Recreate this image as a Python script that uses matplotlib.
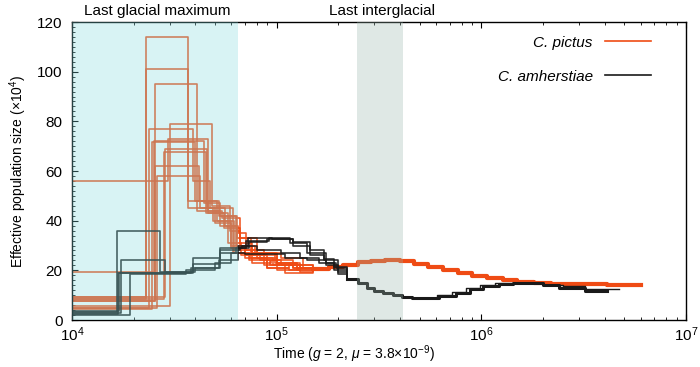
import numpy as np
import matplotlib.pyplot as plt
from matplotlib.lines import Line2D

plt.rcParams['font.family'] = ['Liberation Sans', 'DejaVu Sans']
plt.rcParams['mathtext.fontset'] = 'custom'
plt.rcParams['mathtext.rm'] = 'Liberation Sans'
plt.rcParams['mathtext.it'] = 'Liberation Sans:italic'

# C. pictus bootstrap curves, recent part (time in years, Ne in 10^4)
pictus_runs = [
    ([1e4, 2.30e4, 3.70e4, 4.6e4, 5.8e4, 6.7e4, 8.3e4, 1.05e5, 1.3e5, 1.5e5],
     [9.3, 114, 48, 43, 31, 26, 24, 22, 21, 20.5]),
    ([1e4, 2.30e4, 3.70e4, 4.9e4, 6.0e4, 7.0e4, 9.0e4, 1.15e5, 1.5e5],
     [8.4, 101, 45, 40, 29, 25, 21, 20, 20.5]),
    ([1e4, 2.53e4, 4.10e4, 5.3e4, 6.4e4, 7.5e4, 9.8e4, 1.25e5, 1.5e5],
     [7.6, 95, 44, 38, 33, 27, 23, 21, 20.5]),
    ([1e4, 3.00e4, 4.80e4, 5.9e4, 6.6e4, 8.0e4, 1.0e5, 1.3e5, 1.5e5],
     [5.6, 79, 46, 36, 28, 25, 20, 19.5, 20.5]),
    ([1e4, 2.37e4, 3.90e4, 4.7e4, 6.1e4, 7.3e4, 9.3e4, 1.2e5, 1.5e5],
     [4.9, 77, 56, 45, 27, 24, 22, 21, 20.5]),
    ([1e4, 2.45e4, 4.00e4, 5.2e4, 6.3e4, 7.8e4, 1.05e5, 1.35e5, 1.5e5],
     [4.3, 71.5, 48, 42, 30, 27, 25, 21, 20.5]),
    ([1e4, 2.85e4, 4.55e4, 5.6e4, 6.5e4, 7.1e4, 8.7e4, 1.1e5, 1.5e5],
     [9.3, 69, 45, 38, 35, 28, 22, 19, 20.5]),
    ([1e4, 2.80e4, 4.50e4, 5.5e4, 6.6e4, 8.0e4, 1.0e5, 1.25e5, 1.5e5],
     [8.4, 67.5, 43, 37, 33, 26, 23, 20, 20.5]),
    ([1e4, 2.53e4, 4.15e4, 5.1e4, 6.2e4, 7.4e4, 9.6e4, 1.2e5, 1.5e5],
     [7.6, 62, 48, 40, 27, 25, 22, 21, 20.5]),
    ([1e4, 2.94e4, 4.60e4, 5.4e4, 6.6e4, 7.6e4, 9.4e4, 1.2e5, 1.5e5],
     [56, 73, 44, 41, 31, 23, 24, 22, 20.5]),
    ([1e4, 2.50e4, 4.40e4, 5.3e4, 6.4e4, 7.0e4, 9.0e4, 1.15e5, 1.5e5],
     [19.3, 72, 47, 42, 29, 26, 21, 22, 20.5]),
    ([1e4, 2.60e4, 4.20e4, 5.0e4, 6.0e4, 7.6e4, 1.0e5, 1.3e5, 1.5e5],
     [4.9, 58, 45, 39, 30, 27, 23, 21, 20.5]),
]

# C. pictus older part (bootstraps overlap into one band)
pictus_tail_t = [1.5e5, 1.8e5, 2.1e5, 2.5e5, 2.9e5, 3.4e5, 4.0e5, 4.7e5, 5.5e5, 6.5e5, 7.7e5,
                 9.0e5, 1.07e6, 1.27e6, 1.5e6, 1.8e6, 2.2e6, 2.7e6, 3.3e6, 4.1e6, 5.0e6, 6.0e6]
pictus_tail_ne = [20.5, 21.3, 22.2, 23.2, 23.8, 24.0, 23.6, 22.6, 21.4, 20.0, 18.8,
                  17.6, 16.8, 16.0, 15.4, 15.0, 14.7, 14.5, 14.4, 14.3, 14.2, 14.2]

# C. amherstiae bootstrap curves, recent part
amh_runs = [
    ([1e4, 1.65e4, 2.70e4, 3.90e4, 5.30e4, 6.6e4, 7.1e4, 9.2e4, 1.16e5, 1.4e5, 1.75e5, 1.95e5, 2.2e5],
     [3.3, 36, 19.5, 22.5, 28, 29, 32, 33, 31, 27, 23, 20.8, 16.5]),
    ([1e4, 1.73e4, 2.84e4, 4.0e4, 5.3e4, 6.3e4, 7.3e4, 9.0e4, 1.2e5, 1.45e5, 1.7e5, 2.0e5, 2.2e5],
     [2.7, 24, 19.5, 21, 27, 29, 31.5, 32.5, 30, 26, 24, 19.5, 16.5]),
    ([1e4, 1.92e4, 3.6e4, 5.0e4, 6.0e4, 7.0e4, 1.1e5, 1.4e5, 1.75e5, 2.0e5, 2.2e5],
     [2.0, 18.5, 20, 23, 27, 26.5, 25, 24, 22, 18.5, 16.5]),
    ([1e4, 1.70e4, 3.8e4, 5.2e4, 6.5e4, 8.0e4, 1.05e5, 1.3e5, 1.6e5, 1.9e5, 2.2e5],
     [3.5, 19, 21, 24, 30, 28, 27, 25, 23, 20, 16.5]),
    ([1e4, 1.68e4, 3.9e4, 5.3e4, 6.8e4, 7.2e4, 9.5e4, 1.2e5, 1.45e5, 1.7e5, 1.9e5, 2.2e5],
     [2.5, 19, 25, 29, 30, 33, 32.5, 31.5, 28, 24.5, 21.5, 16.5]),
]

# C. amherstiae older part
amh_tail_t = [2.2e5, 2.5e5, 2.75e5, 3.0e5, 3.3e5, 3.7e5, 4.1e5, 4.6e5, 6.2e5, 7.5e5, 8.8e5,
              1.02e6, 1.22e6, 1.42e6, 2.0e6, 2.4e6, 3.2e6, 4.1e6]
amh_tail_ne = [16.5, 15.0, 13.0, 11.8, 10.8, 10.0, 9.3, 8.8, 9.6, 10.9, 12.3,
               13.6, 14.6, 14.8, 14.0, 13.0, 11.6, 11.6]
amh_alt_t = [5.5e5, 6.1e5, 7.2e5, 8.4e5, 9.8e5, 1.17e6, 1.4e6, 2.0e6, 2.5e6, 3.2e6, 4.7e6]
amh_alt_ne = [9.0, 10.0, 11.3, 12.7, 14.0, 15.0, 15.0, 14.3, 13.5, 12.4, 12.4]

orange = '#ef4b14'
black = '#1a1a1a'

fig = plt.figure(figsize=(7, 3.67), dpi=100)
ax = fig.add_axes([0.103, 0.128, 0.877, 0.812])

for t, ne in pictus_runs:
    ax.step(t, ne, where='post', color=orange, lw=1.2, alpha=0.9)
ax.step(pictus_tail_t, pictus_tail_ne, where='post', color=orange, lw=3.0)

for t, ne in amh_runs:
    ax.step(t, ne, where='post', color=black, lw=1.2, alpha=0.9)
ax.step(amh_tail_t, amh_tail_ne, where='post', color=black, lw=2.2)
ax.step(amh_alt_t, amh_alt_ne, where='post', color=black, lw=1.0)

# shaded periods drawn on top, as in the original
ax.axvspan(1e4, 6.5e4, color='#7fd8dc', alpha=0.3, lw=0, zorder=3)
ax.axvspan(2.48e5, 4.12e5, color='#98b6ac', alpha=0.3, lw=0, zorder=3)

ax.set_xscale('log')
ax.set_xlim(1e4, 1e7)
ax.set_ylim(0, 120)
ax.set_yticks(np.arange(0, 121, 20))
ax.set_yticks(np.arange(0, 121, 2), minor=True)
ax.tick_params(which='both', direction='in', top=True, right=False, labelsize=11)
ax.tick_params(which='major', length=4)
ax.tick_params(which='minor', length=2)
ax.tick_params(axis='x', pad=4)
ax.tick_params(axis='y', pad=7)
for s in ax.spines.values():
    s.set_linewidth(1.0)

handles = [Line2D([], [], color=orange, lw=1.2), Line2D([], [], color=black, lw=1.2)]
ax.legend(handles, ['C. pictus', 'C. amherstiae'], loc='upper right', frameon=False,
          markerfirst=False, prop={'style': 'italic', 'size': 11},
          handlelength=3.0, labelspacing=1.3, bbox_to_anchor=(0.965, 1.0))

fig.text(18 / 700, 1 - 171 / 367, r'Effective population size (×10$^4$)', rotation=90,
         ha='center', va='center', fontsize=10)
fig.text(354 / 700, 1 - 354 / 367, r'Time ($\mathit{g}$ = 2, $\mathit{\mu}$ = 3.8×10$^{-9}$)',
         ha='center', va='center', fontsize=10)
fig.text(157 / 700, 1 - 11 / 367, 'Last glacial maximum', ha='center', va='center', fontsize=11)
fig.text(382 / 700, 1 - 11 / 367, 'Last interglacial', ha='center', va='center', fontsize=11)

fig.savefig('out.png', dpi=100)
